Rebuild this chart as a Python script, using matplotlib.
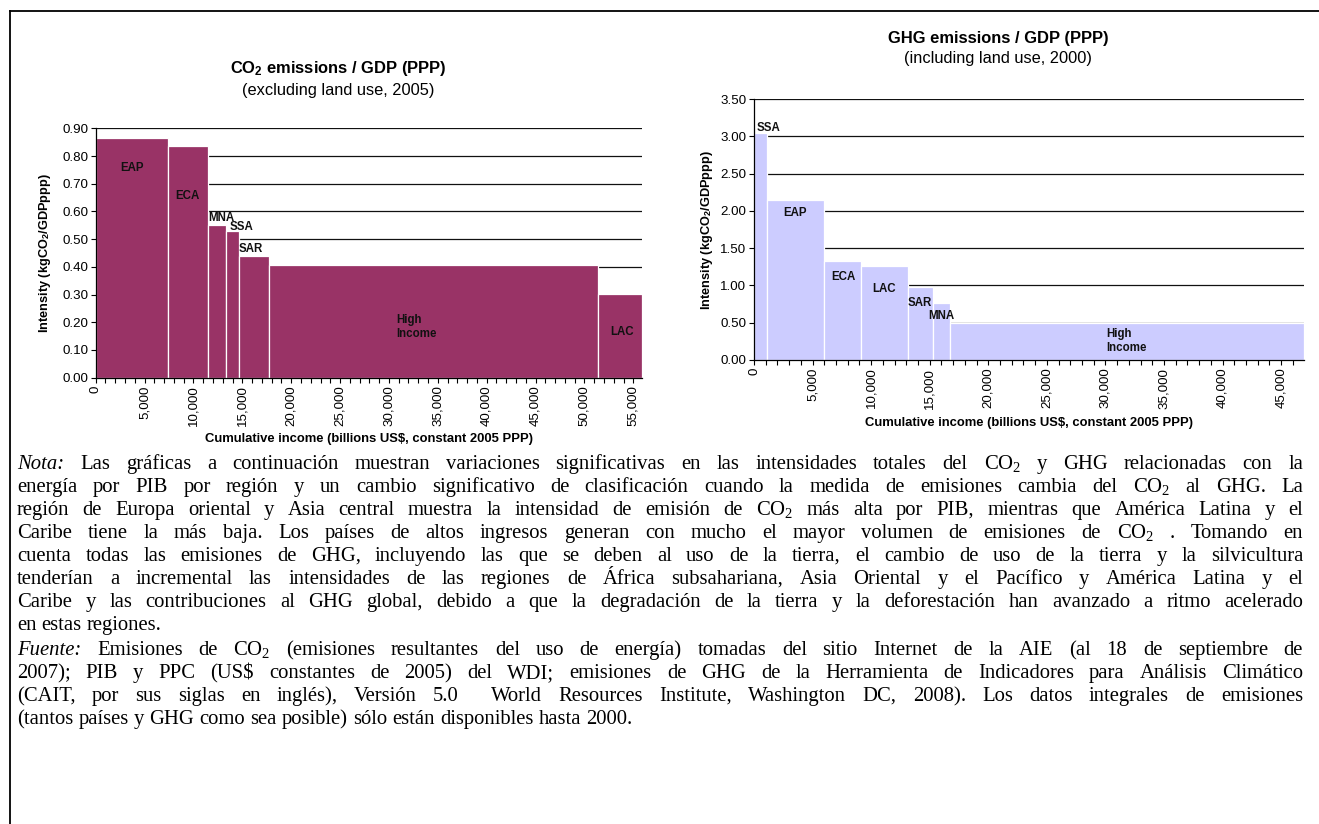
import numpy as np
import matplotlib
matplotlib.use("Agg")
import matplotlib.pyplot as plt
from matplotlib.ticker import MultipleLocator, FuncFormatter
from matplotlib.lines import Line2D

plt.rcParams["font.family"] = ["Liberation Sans", "DejaVu Sans"]
plt.rcParams["mathtext.fontset"] = "custom"
plt.rcParams["mathtext.rm"] = "Liberation Serif"
plt.rcParams["mathtext.it"] = "Liberation Serif:italic"
plt.rcParams["mathtext.bf"] = "Liberation Sans:bold"

# ---------------- data ----------------
co2_regions = ["EAP", "ECA", "MNA", "SSA", "SAR", "High\nIncome", "LAC"]
co2_income = [7350, 4140, 1840, 1330, 3070, 33630, 4500]          # billions US$ (bar widths)
co2_intensity = [0.865, 0.837, 0.551, 0.529, 0.439, 0.407, 0.302]  # kgCO2/GDPppp

ghg_regions = ["SSA", "EAP", "ECA", "LAC", "SAR", "MNA", "High\nIncome"]
ghg_income = [1080, 4890, 3150, 4010, 2180, 1460, 30180]
ghg_intensity = [3.05, 2.15, 1.33, 1.26, 0.98, 0.77, 0.50]

# label anchor positions (x in data, y in data)
co2_label_pos = [(3745, 0.756, "center"), (9340, 0.657, "center"), (12850, 0.577, "center"),
                 (14930, 0.545, "center"), (15890, 0.463, "center"), (30790, 0.183, "left"),
                 (53870, 0.164, "center")]
ghg_label_pos = [(230, 3.107, "left"), (3500, 1.975, "center"), (7670, 1.109, "center"),
                 (11110, 0.948, "center"), (14150, 0.768, "center"), (16000, 0.586, "center"),
                 (30070, 0.259, "left")]

FW, FH = 1319, 824
fig = plt.figure(figsize=(FW / 100, FH / 100), dpi=100)


def fx(px):
    return px / FW


def fy(py):
    return 1 - py / FH


def thousands(v, pos):
    return f"{int(round(v)):,}"


def make_chart(rect, regions, widths, heights, color, xmax, ymax, ystep, label_pos):
    ax = fig.add_axes(rect)
    lefts = np.concatenate([[0], np.cumsum(widths)[:-1]])
    ax.bar(lefts, heights, width=widths, align="edge", color=color,
           edgecolor="white", linewidth=0.9, zorder=2)
    ax.set_xlim(0, xmax)
    ax.set_ylim(0, ymax)
    ax.yaxis.set_major_locator(MultipleLocator(ystep))
    ax.yaxis.set_major_formatter(FuncFormatter(lambda v, p: f"{v:.2f}"))
    ax.xaxis.set_major_locator(MultipleLocator(5000))
    ax.xaxis.set_minor_locator(MultipleLocator(1000))
    ax.xaxis.set_major_formatter(FuncFormatter(thousands))
    ax.yaxis.grid(True, color="#111111", linewidth=0.9, zorder=0)
    ax.set_axisbelow(True)
    for s in ["top", "right"]:
        ax.spines[s].set_visible(False)
    for s in ["left", "bottom"]:
        ax.spines[s].set_color("black")
        ax.spines[s].set_linewidth(0.9)
        ax.spines[s].set_zorder(3)
    ax.tick_params(axis="both", which="both", direction="out", length=3.5, width=0.8,
                   color="black", labelsize=9.6, pad=2)
    for lab in ax.get_xticklabels():
        lab.set_rotation(90)
    for (x, y, ha), name in zip(label_pos, regions):
        ax.text(x, y, name, ha=ha, va="center", fontsize=8.3, fontweight="bold",
                color="#111111", linespacing=1.2, zorder=4)
    return ax


# left chart
axL = make_chart([fx(95.7), fy(377.7), fx(641.7) - fx(95.7), fy(128.3) - fy(377.7)],
                 co2_regions, co2_income, co2_intensity, "#993366", 55860, 0.9, 0.1,
                 co2_label_pos)
# right chart
axR = make_chart([fx(754), fy(360), fx(1304) - fx(754), fy(99) - fy(360)],
                 ghg_regions, ghg_income, ghg_intensity, "#CCCCFF", 46950, 3.5, 0.5,
                 ghg_label_pos)

# axis labels
xlab = "Cumulative income (billions US\\$, constant 2005 PPP)"
ylab = "Intensity (kgCO$_\\mathbf{2}$/GDPppp)"
fig.text(fx(368.7), fy(439.3), xlab, ha="center", va="center", fontsize=9.4, fontweight="bold")
fig.text(fx(1029), fy(422.7), xlab, ha="center", va="center", fontsize=9.4, fontweight="bold")
fig.text(fx(45), fy(253), ylab, ha="center", va="center", rotation=90, fontsize=9.2, fontweight="bold")
fig.text(fx(707), fy(230), ylab, ha="center", va="center", rotation=90, fontsize=9.2, fontweight="bold")

# titles
fig.text(fx(338), fy(68.3), "CO$_\\mathbf{2}$ emissions / GDP (PPP)", ha="center", va="center",
         fontsize=11.9, fontweight="bold")
fig.text(fx(338), fy(90), "(excluding land use, 2005)", ha="center", va="center", fontsize=11.8)
fig.text(fx(998), fy(38.3), "GHG emissions / GDP (PPP)", ha="center", va="center",
         fontsize=11.9, fontweight="bold")
fig.text(fx(998), fy(59), "(including land use, 2000)", ha="center", va="center", fontsize=11.8)

# frame (top & left visible)
fig.add_artist(Line2D([fx(10), fx(10)], [fy(11), 0], transform=fig.transFigure, color="black", lw=1.3))
fig.add_artist(Line2D([fx(10), 1], [fy(11), fy(11)], transform=fig.transFigure, color="black", lw=1.3))

# paragraph text (justified)
para_lines = [
    "*Nota:* Las gráficas a continuación muestran variaciones significativas en las intensidades totales del CO$_2$ y GHG relacionadas con la",
    "energía por PIB por región y un cambio significativo de clasificación cuando la medida de emisiones cambia del CO$_2$ al GHG. La",
    "región de Europa oriental y Asia central muestra la intensidad de emisión de CO$_2$ más alta por PIB, mientras que América Latina y el",
    "Caribe tiene la más baja. Los países de altos ingresos generan con mucho el mayor volumen de emisiones de CO$_2$ . Tomando en",
    "cuenta todas las emisiones de GHG, incluyendo las que se deben al uso de la tierra, el cambio de uso de la tierra y la silvicultura",
    "tenderían a incremental las intensidades de las regiones de África subsahariana, Asia Oriental y el Pacífico y América Latina y el",
    "Caribe y las contribuciones al GHG global, debido a que la degradación de la tierra y la deforestación han avanzado a ritmo acelerado",
    "en estas regiones.",
    "*Fuente:* Emisiones de CO$_2$ (emisiones resultantes del uso de energía) tomadas del sitio Internet de la AIE (al 18 de septiembre de",
    "2007); PIB y PPC (US\\$ constantes de 2005) del WDI; emisiones de GHG de la Herramienta de Indicadores para Análisis Climático",
    "(CAIT, por sus siglas en inglés), Versión 5.0  World Resources Institute, Washington DC, 2008). Los datos integrales de emisiones",
    "(tantos países y GHG como sea posible) sólo están disponibles hasta 2000.",
]
para_justify = [True] * 7 + [False] + [True] * 3 + [False]
para_y = [464, 487, 510, 533, 556, 579, 602, 625, 650, 673, 696, 719]

renderer = fig.canvas.get_renderer()
X0, X1 = 17, 1303
PFS = 14.9
for line, yy, just in zip(para_lines, para_y, para_justify):
    words = line.split(" ")
    texts, widths = [], []
    for w in words:
        style = "normal"
        if w.startswith("*") and w.endswith("*"):
            w = w.strip("*")
            style = "italic"
        t = fig.text(0, fy(yy + 5), w, family="Liberation Serif", fontsize=PFS, style=style,
                     ha="left", va="baseline")
        texts.append(t)
        widths.append(t.get_window_extent(renderer).width if w else 0.0)
    if just and len(words) > 1:
        gap = (X1 - X0 - sum(widths)) / (len(words) - 1)
    else:
        gap = PFS * 100 / 72 * 0.25
    x = X0
    for t, w in zip(texts, widths):
        t.set_x(fx(x))
        x += w + gap

fig.savefig("out.png", dpi=100)
